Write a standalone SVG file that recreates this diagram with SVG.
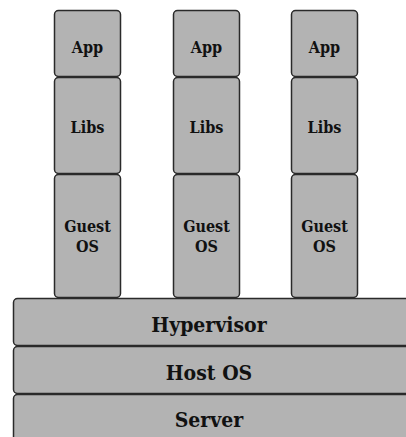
<svg xmlns="http://www.w3.org/2000/svg" width="406" height="437" viewBox="0 0 406 437">
<style>
.b{fill:#b3b3b3;stroke:#2a2a2a;stroke-width:1.5}
.t{font-family:"DejaVu Serif Condensed","DejaVu Serif","Liberation Serif",serif;font-stretch:condensed;font-weight:bold;fill:#111;text-anchor:middle}
.s{font-size:16px}
.l{font-size:21px}
</style>
<rect width="406" height="437" fill="#fff"/>
<g id="vm1">
<g id="app1"><rect class="b" x="54.5" y="10.5" width="66" height="66" rx="4"/><text class="t s" x="87.5" y="53">App</text></g>
<g id="libs1"><rect class="b" x="54.5" y="77.5" width="66" height="96" rx="4"/><text class="t s" x="87.5" y="133">Libs</text></g>
<g id="guest1"><rect class="b" x="54.5" y="174.5" width="66" height="123" rx="4"/><text class="t s" x="87.5" y="232">Guest</text><text class="t s" x="87.5" y="252">OS</text></g>
</g>
<g id="vm2">
<g id="app2"><rect class="b" x="173.5" y="10.5" width="66" height="66" rx="4"/><text class="t s" x="206.5" y="53">App</text></g>
<g id="libs2"><rect class="b" x="173.5" y="77.5" width="66" height="96" rx="4"/><text class="t s" x="206.5" y="133">Libs</text></g>
<g id="guest2"><rect class="b" x="173.5" y="174.5" width="66" height="123" rx="4"/><text class="t s" x="206.5" y="232">Guest</text><text class="t s" x="206.5" y="252">OS</text></g>
</g>
<g id="vm3">
<g id="app3"><rect class="b" x="291.5" y="10.5" width="66" height="66" rx="4"/><text class="t s" x="324.5" y="53">App</text></g>
<g id="libs3"><rect class="b" x="291.5" y="77.5" width="66" height="96" rx="4"/><text class="t s" x="324.5" y="133">Libs</text></g>
<g id="guest3"><rect class="b" x="291.5" y="174.5" width="66" height="123" rx="4"/><text class="t s" x="324.5" y="232">Guest</text><text class="t s" x="324.5" y="252">OS</text></g>
</g>
<g id="hypervisor"><rect class="b" x="13.5" y="298.5" width="400" height="47" rx="4"/><text class="t l" x="209" y="332">Hypervisor</text></g>
<g id="hostos"><rect class="b" x="13.5" y="346.5" width="400" height="47" rx="4"/><text class="t l" x="209" y="380">Host OS</text></g>
<g id="server"><rect class="b" x="13.5" y="394.5" width="400" height="50" rx="4"/><text class="t l" x="209" y="427">Server</text></g>
<g id="connectors"/>
</svg>
